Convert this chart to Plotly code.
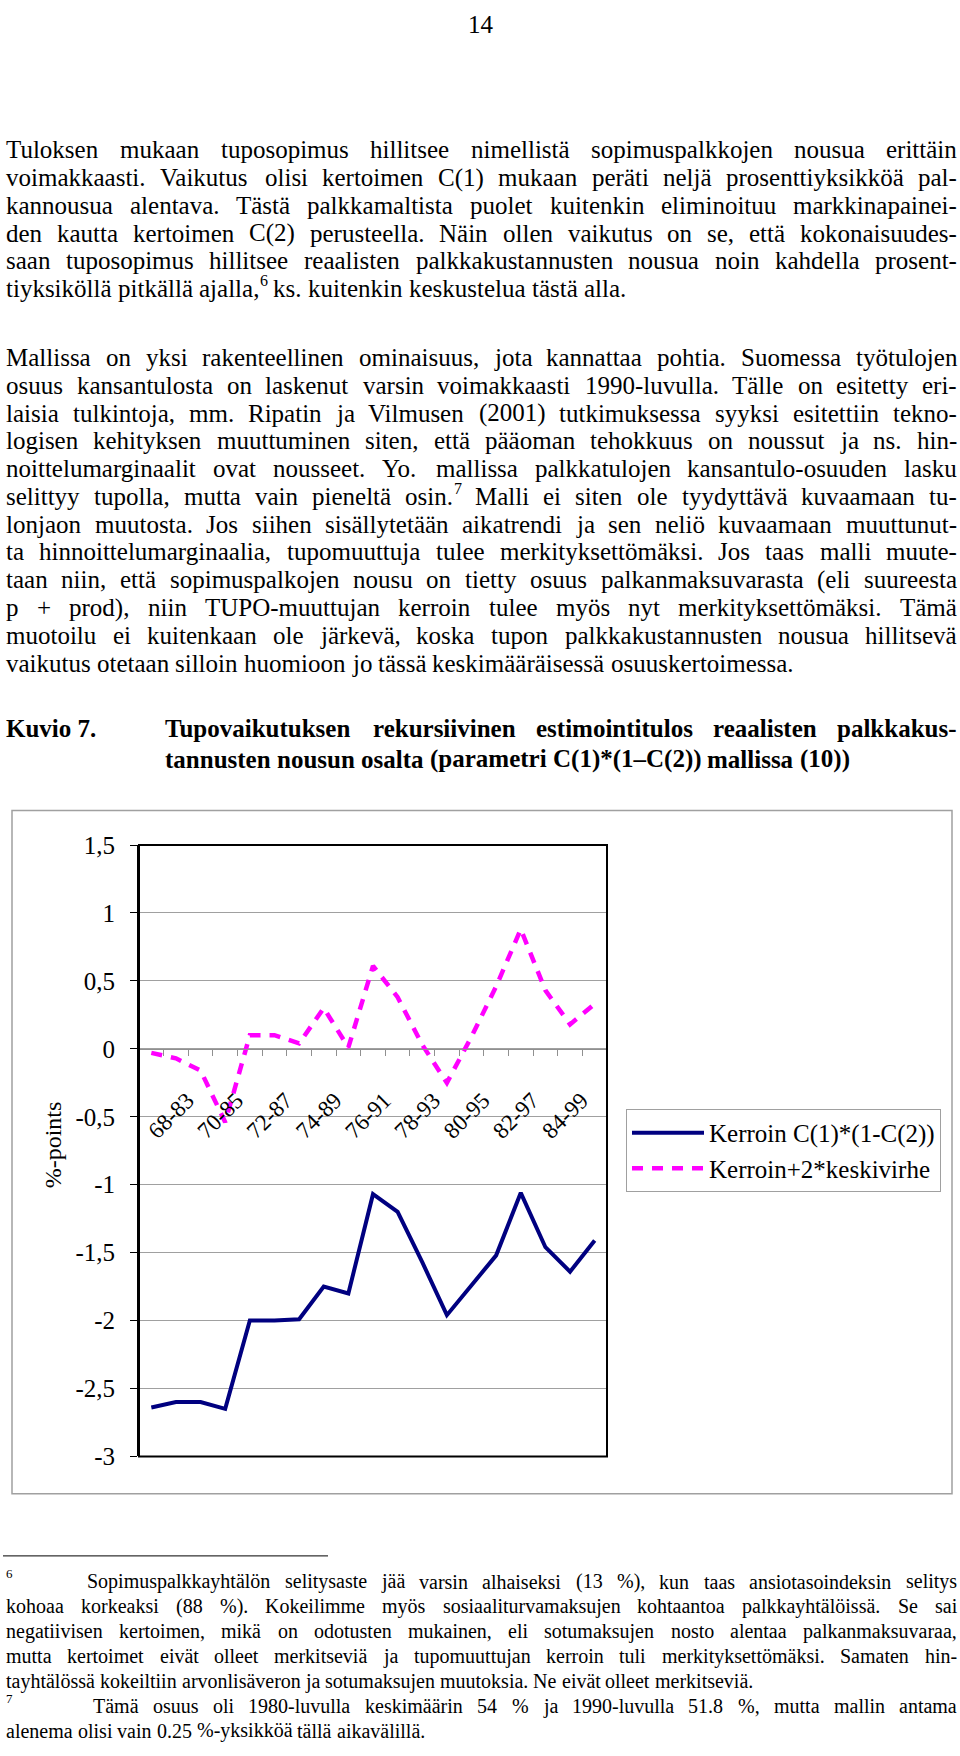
import plotly.graph_objects as go

W, H = 960, 1756
SERIF = "Liberation Serif"

# data
periods = ["68-83", "69-84", "70-85", "71-86", "72-87", "73-88", "74-89", "75-90", "76-91", "77-92",
           "78-93", "79-94", "80-95", "81-96", "82-97", "83-98", "84-99", "85-00", "86-01"]
tick_labels = ["68-83", "", "70-85", "", "72-87", "", "74-89", "", "76-91", "",
               "78-93", "", "80-95", "", "82-97", "", "84-99", "", ""]
kerroin = [-2.64, -2.60, -2.60, -2.65, -2.00, -2.00, -1.99, -1.75, -1.80, -1.07,
           -1.20, -1.57, -1.96, -1.74, -1.52, -1.06, -1.46, -1.64, -1.41]
ylaraja = [-0.03, -0.07, -0.16, -0.54, 0.10, 0.10, 0.04, 0.30, 0.01, 0.61,
           0.38, 0.03, -0.25, 0.09, 0.46, 0.88, 0.43, 0.18, 0.33]
y_ticks = [-3, -2.5, -2, -1.5, -1, -0.5, 0, 0.5, 1, 1.5]
y_range = [-3, 1.5]

para1 = [
    "Tuloksen mukaan tuposopimus hillitsee nimellistä sopimuspalkkojen nousua erittäin",
    "voimakkaasti. Vaikutus olisi kertoimen C(1) mukaan peräti neljä prosenttiyksikköä pal-",
    "kannousua alentava. Tästä palkkamaltista puolet kuitenkin eliminoituu markkinapainei-",
    "den kautta kertoimen C(2) perusteella. Näin ollen vaikutus on se, että kokonaisuudes-",
    "saan tuposopimus hillitsee reaalisten palkkakustannusten nousua noin kahdella prosent-",
    "tiyksiköllä pitkällä ajalla,^6 ks. kuitenkin keskustelua tästä alla.",
]
para2 = [
    "Mallissa on yksi rakenteellinen ominaisuus, jota kannattaa pohtia. Suomessa työtulojen",
    "osuus kansantulosta on laskenut varsin voimakkaasti 1990-luvulla. Tälle on esitetty eri-",
    "laisia tulkintoja, mm. Ripatin ja Vilmusen (2001) tutkimuksessa syyksi esitettiin tekno-",
    "logisen kehityksen muuttuminen siten, että pääoman tehokkuus on noussut ja ns. hin-",
    "noittelumarginaalit ovat nousseet. Yo. mallissa palkkatulojen kansantulo-osuuden lasku",
    "selittyy tupolla, mutta vain pieneltä osin.^7 Malli ei siten ole tyydyttävä kuvaamaan tu-",
    "lonjaon muutosta. Jos siihen sisällytetään aikatrendi ja sen neliö kuvaamaan muuttunut-",
    "ta hinnoittelumarginaalia, tupomuuttuja tulee merkityksettömäksi. Jos taas malli muute-",
    "taan niin, että sopimuspalkojen nousu on tietty osuus palkanmaksuvarasta (eli suureesta",
    "p + prod), niin TUPO-muuttujan kerroin tulee myös nyt merkityksettömäksi. Tämä",
    "muotoilu ei kuitenkaan ole järkevä, koska tupon palkkakustannusten nousua hillitsevä",
    "vaikutus otetaan silloin huomioon jo tässä keskimääräisessä osuuskertoimessa.",
]
title = [
    "Tupovaikutuksen rekursiivinen estimointitulos reaalisten palkkakus-",
    "tannusten nousun osalta (parametri C(1)*(1–C(2)) mallissa (10))",
]
foot6 = [
    "Sopimuspalkkayhtälön selitysaste jää varsin alhaiseksi (13 %), kun taas ansiotasoindeksin selitys",
    "kohoaa korkeaksi (88 %). Kokeilimme myös sosiaaliturvamaksujen kohtaantoa palkkayhtälöissä. Se sai",
    "negatiivisen kertoimen, mikä on odotusten mukainen, eli sotumaksujen nosto alentaa palkanmaksuvaraa,",
    "mutta kertoimet eivät olleet merkitseviä ja tupomuuttujan kerroin tuli merkityksettömäksi. Samaten hin-",
    "tayhtälössä kokeiltiin arvonlisäveron ja sotumaksujen muutoksia. Ne eivät olleet merkitseviä.",
]
foot7 = [
    "Tämä osuus oli 1980-luvulla keskimäärin 54 % ja 1990-luvulla 51.8 %, mutta mallin antama",
    "alenema olisi vain 0.25 %-yksikköä tällä aikavälillä.",
]

# Times glyph widths (1/1000 em), used to justify the text lines
REG = dict(zip("abcdefghijklmnopqrstuvwxyz",
               [444, 500, 444, 500, 444, 333, 500, 500, 278, 278, 500, 278, 778, 500, 500, 500, 500,
                333, 389, 278, 500, 500, 722, 500, 500, 444]))
REG.update(dict(zip("ABCDEFGHIJKLMNOPQRSTUVWXYZ",
                    [722, 667, 667, 722, 611, 556, 722, 722, 333, 389, 722, 611, 889, 722, 722, 556, 722,
                     667, 556, 611, 722, 722, 944, 722, 722, 611])))
REG.update({" ": 250, ".": 250, ",": 250, "-": 333, "(": 333, ")": 333, "*": 500, "+": 564, "%": 833,
            "ä": 444, "ö": 500, "Ä": 722, "Ö": 722, ":": 278, "–": 500})
BOLD = dict(zip("abcdefghijklmnopqrstuvwxyz",
                [500, 556, 444, 556, 444, 333, 500, 556, 278, 333, 556, 278, 833, 556, 500, 556, 556,
                 444, 389, 333, 556, 500, 722, 500, 500, 444]))
BOLD.update({" ": 250, ".": 250, ",": 250, "-": 333, "(": 333, ")": 333, "*": 500, "–": 500,
             "K": 778, "T": 667, "C": 722, "ä": 500, "ö": 500})
SUP = 0.62  # superscript size relative to the text


def text_width(word, size, bold=False):
    table = BOLD if bold else REG
    base, _, sup = word.partition("^")
    return (sum(table.get(c, 500) for c in base) + 500 * len(sup) * SUP) * size / 1000


def px(x):
    return x / W


def py(y):
    return 1 - y / H


annotations = []


def put_text(text, x, y, size, bold=False, anchor="left", angle=0):
    if bold:
        text = "<b>" + text + "</b>"
    annotations.append(dict(text=text, x=px(x), y=py(y), xref="paper", yref="paper",
                            xanchor=anchor, yanchor="middle", showarrow=False, textangle=angle,
                            borderpad=0, font=dict(family=SERIF, size=size, color="black")))


def put_word(word, x, y, size, bold=False):
    # footnote marks are drawn as small raised text after the word
    base, _, sup = word.partition("^")
    put_text(base, x, y, size, bold)
    if sup:
        put_text(sup, x + text_width(base, size, bold) + 1, y - size * 0.33, round(size * SUP))


def put_line(text, x0, x1, y, size, bold=False, justify=True):
    words = text.split(" ")
    widths = [text_width(w, size, bold) for w in words]
    if justify and len(words) > 1:
        gap = (x1 - x0 - sum(widths)) / (len(words) - 1)
    else:
        gap = size * 0.25
    x = x0
    for w, wd in zip(words, widths):
        put_word(w, x, y, size, bold)
        x += wd + gap


def put_paragraph(lines, x0, x1, y0, step, size, bold=False, first_x=None):
    for i, line in enumerate(lines):
        left = first_x if (i == 0 and first_x is not None) else x0
        put_line(line, left, x1, y0 + i * step, size, bold, justify=i < len(lines) - 1)


BODY = 25
LS = 28.2
put_text("14", 481, 12, BODY, anchor="center")
put_paragraph(para1, 5, 956, 139, LS, BODY)
put_paragraph(para2, 5, 956, 350, LS, BODY)
put_text("Kuvio 7.", 5, 727, BODY, bold=True)
put_paragraph(title, 164, 956, 727, 31, BODY, bold=True)

FN = 20
FS = 25.3
put_text("6", 5, 1585, 13)
put_paragraph(foot6, 5, 956, 1593, FS, FN, first_x=86)
put_text("7", 5, 1585 + 5 * FS, 13)
put_paragraph(foot7, 5, 956, 1593 + 5 * FS, FS, FN, first_x=92)

# y-axis title
put_text("%-points", 53, 1150, 24, anchor="center", angle=-90)

plot_left, plot_right, plot_top, plot_bottom = 139, 607, 845, 1466
ydom = [py(plot_bottom), py(plot_top)]
zero_pos = ydom[0] + (0 - y_range[0]) / (y_range[1] - y_range[0]) * (ydom[1] - ydom[0])

fig = go.Figure()
fig.add_trace(go.Scatter(x=periods, y=kerroin, mode="lines", name="Kerroin C(1)*(1-C(2))",
                         line=dict(color="#000080", width=4)))
fig.add_trace(go.Scatter(x=periods, y=ylaraja, mode="lines", name="Kerroin+2*keskivirhe",
                         line=dict(color="#FF00FF", width=4.5, dash="11px,9px")))

fig.update_layout(
    width=W, height=H,
    margin=dict(l=0, r=0, t=0, b=0),
    paper_bgcolor="white", plot_bgcolor="white",
    showlegend=True,
    legend=dict(x=px(626), y=py(1113), xanchor="left", yanchor="top",
                bordercolor="#a0a0a0", borderwidth=1, bgcolor="white",
                font=dict(family=SERIF, size=25, color="black"),
                itemwidth=72, tracegroupgap=0),
    xaxis=dict(type="category", categoryorder="array", categoryarray=periods,
               domain=[px(plot_left), px(plot_right)], range=[-0.5, len(periods) - 0.5],
               anchor="free", position=zero_pos,
               showline=True, linecolor="#909090", linewidth=1,
               ticks="outside", ticklen=6, tickcolor="#909090", tickwidth=1,
               tickson="boundaries", tickmode="array", tickvals=periods, ticktext=tick_labels,
               tickangle=-45, ticklabelshift=36, ticklabelstandoff=28,
               tickfont=dict(family=SERIF, size=23, color="black"),
               showgrid=False, zeroline=False),
    yaxis=dict(domain=ydom, range=y_range, tickmode="array", tickvals=y_ticks,
               ticktext=[f"{v:g}".replace(".", ",") for v in y_ticks],
               showline=True, linecolor="black", linewidth=2,
               ticks="outside", ticklen=7, tickcolor="black",
               ticklabelstandoff=10,
               tickfont=dict(family=SERIF, size=25, color="black"),
               showgrid=True, gridcolor="#a0a0a0", gridwidth=1, zeroline=False),
    annotations=annotations,
    shapes=[
        # plot area frame
        dict(type="rect", xref="x domain", yref="y domain", x0=0, x1=1, y0=0, y1=1,
             line=dict(color="black", width=2), layer="above"),
        # chart box
        dict(type="rect", xref="paper", yref="paper", x0=px(12), x1=px(952), y0=py(1504), y1=py(810),
             line=dict(color="#a0a0a0", width=1.5)),
        # footnote rule
        dict(type="line", xref="paper", yref="paper", x0=px(3), x1=px(328), y0=py(1567), y1=py(1567),
             line=dict(color="black", width=1)),
    ],
)

# the page itself has no margin, so the figure fills the window exactly
fig.write_html("out.html", config={"displayModeBar": False},
               post_script="document.body.style.margin='0';document.body.style.overflow='hidden';")
